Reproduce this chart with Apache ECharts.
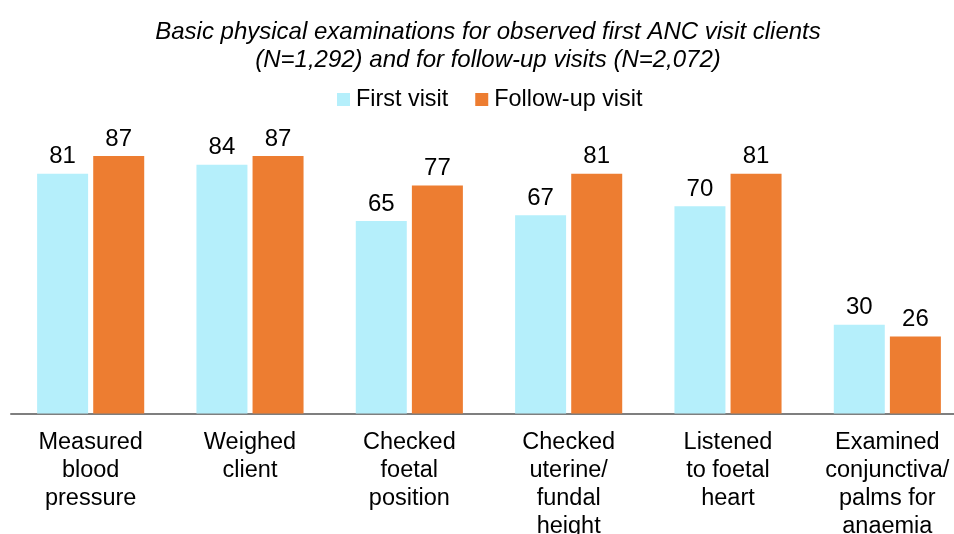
<!DOCTYPE html>
<html><head><meta charset="utf-8">
<script src="https://cdn.jsdelivr.net/npm/echarts@6/dist/echarts.min.js"></script>
<style>html,body{margin:0;padding:0;background:#fff}#c{width:954px;height:534px}</style>
</head><body><div id="c"></div>
<script>
const categories = ["Measured\nblood\npressure", "Weighed\nclient", "Checked\nfoetal\nposition", "Checked\nuterine/\nfundal\nheight", "Listened\nto foetal\nheart", "Examined\nconjunctiva/\npalms for\nanaemia"];
const firstVisit = [81, 84, 65, 67, 70, 30];
const followUp = [87, 87, 77, 81, 81, 26];
const seriesNames = ["First visit", "Follow-up visit"];
const titleText = "Basic physical examinations for observed first ANC visit clients\n(N=1,292) and for follow-up visits (N=2,072)";

const chart = echarts.init(document.getElementById('c'));
const font = "Liberation Sans, Arial, sans-serif";
chart.setOption({
  animation: false,
  textStyle: {fontFamily: font},
  title: {text: titleText, left: 483, textAlign: 'center', top: 13,
    textStyle: {fontFamily: font, fontStyle: 'italic', fontWeight: 'normal', fontSize: 24, color: '#000', lineHeight: 28}},
  legend: {top: 83, left: 332, itemWidth: 13, itemHeight: 13, itemGap: 27,
    textStyle: {fontFamily: font, fontSize: 23.4, color: '#000', padding: [0, 0, 0, 1]},
    data: seriesNames.map(n => ({name: n, icon: 'rect'}))},
  grid: {left: 11, width: 956, top: 117.5, height: 296, containLabel: false, outerBoundsMode: 'none'},
  xAxis: {type: 'category', data: categories,
    axisLine: {lineStyle: {color: '#7f7f7f', width: 2}},
    axisTick: {show: false},
    axisLabel: {fontFamily: font, fontSize: 23.5, color: '#000', lineHeight: 28, margin: 15, interval: 0}},
  yAxis: {type: 'value', min: 0, max: 100, show: false, splitLine: {show: false}},
  series: [
    {name: seriesNames[0], type: 'bar', data: firstVisit, barWidth: 51, barGap: '10%',
      itemStyle: {color: '#B5EFFB'},
      label: {show: true, position: 'top', distance: 5, fontFamily: font, fontSize: 24, color: '#000'}},
    {name: seriesNames[1], type: 'bar', data: followUp, barWidth: 51,
      itemStyle: {color: '#ED7D31'},
      label: {show: true, position: 'top', distance: 5, fontFamily: font, fontSize: 24, color: '#000'}}
  ]
});
</script></body></html>
